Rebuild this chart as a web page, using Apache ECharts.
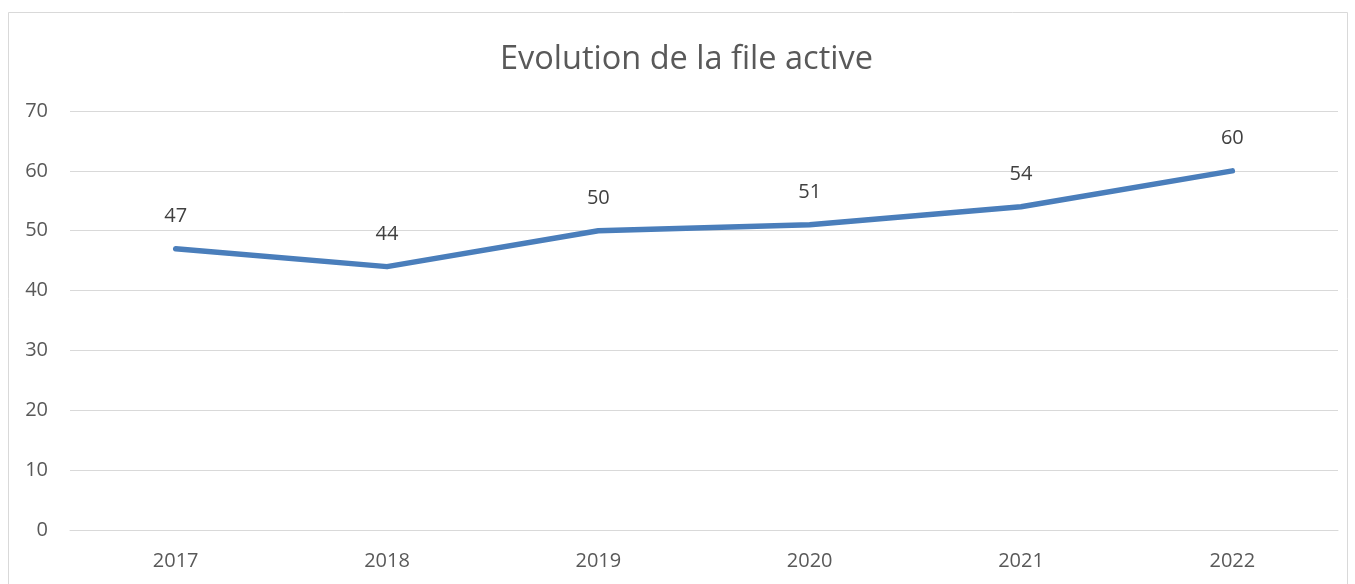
<!DOCTYPE html>
<html><head><meta charset="utf-8">
<script src="https://cdn.jsdelivr.net/npm/echarts@6/dist/echarts.min.js"></script>
<style>html,body{margin:0;padding:0;background:#fff;}#c{width:1355px;height:584px;}</style>
</head><body><div id="c"></div>
<script>
const categories = ['2017','2018','2019','2020','2021','2022'];
const values = [47, 44, 50, 51, 54, 60];
const titleText = 'Evolution de la file active';
const chart = echarts.init(document.getElementById('c'));
chart.setOption({
  animation: false,
  backgroundColor: '#fff',
  graphic: [{type:'rect', shape:{x:8.5,y:12.5,width:1339,height:620}, style:{fill:'none', stroke:'#d9d9d9', lineWidth:1}, silent:true}],
  title: {text: titleText, left: 495, top: 38, textStyle:{fontFamily:'Open Sans, Noto Sans, sans-serif', fontSize:32.5, fontWeight:'normal', color:'#595959'}},
  grid: {left: 70, right: 17, top: 111, bottom: 54},
  xAxis: {type:'category', data: categories, boundaryGap: true,
    axisLine:{show:true, lineStyle:{color:'#d9d9d9'}}, axisTick:{show:false},
    axisLabel:{fontFamily:'Open Sans, Noto Sans, sans-serif', fontSize:20, color:'#595959', margin:21}},
  yAxis: {type:'value', min:0, max:70, interval:10,
    axisLine:{show:false}, axisTick:{show:false},
    splitLine:{lineStyle:{color:'#d9d9d9', width:1}},
    axisLabel:{fontFamily:'Open Sans, Noto Sans, sans-serif', fontSize:20, color:'#595959', margin:22}},
  series: [{type:'line', data: values, symbol:'circle', symbolSize:1, showSymbol:true,
    itemStyle:{color:'rgba(0,0,0,0)'},
    lineStyle:{color:'#4a7ebb', width:5.5, cap:'round', join:'round'},
    label:{show:true, position:'top', distance:22, fontFamily:'Open Sans, Noto Sans, sans-serif', fontSize:20, color:'#404040'}}]
});
</script></body></html>
